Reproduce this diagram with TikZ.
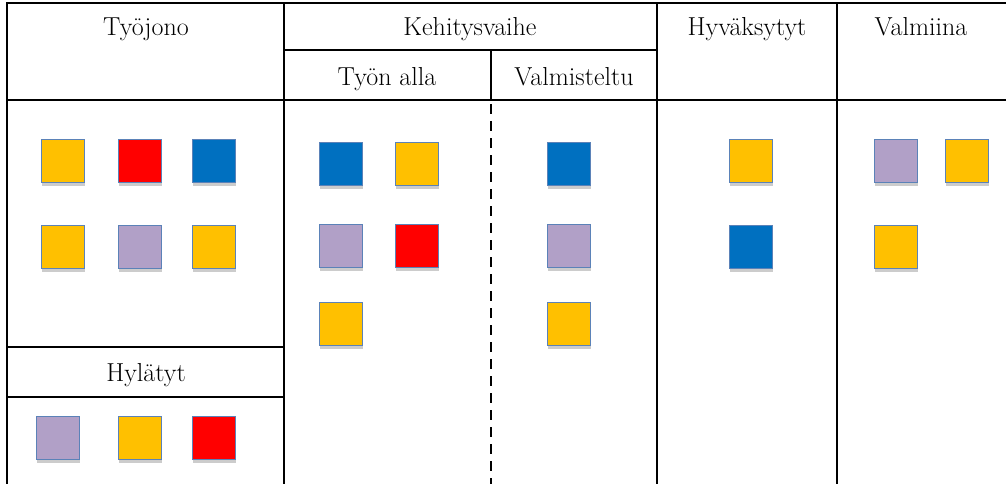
\documentclass[tikz,border=0pt]{standalone}
\usetikzlibrary{shadows}
\definecolor{cOrange}{HTML}{FFC000}
\definecolor{cRed}{HTML}{FF0000}
\definecolor{cBlue}{HTML}{0070C0}
\definecolor{cLav}{HTML}{B1A0C7}
\definecolor{cBorder}{HTML}{5B82B8}
\begin{document}
\begin{tikzpicture}[x=1pt,y=-1pt,
  rule/.style={line width=2.8pt, line cap=rect},
  dashrule/.style={line width=2.8pt, dash pattern=on 10pt off 7pt},
  card/.style={draw=cBorder, line width=1.3pt, minimum size=43pt, inner sep=0pt,
    drop shadow={shadow xshift=0.8pt, shadow yshift=-3pt, opacity=0.2, fill=black}},
  hdr/.style={font=\fontsize{26}{30}\selectfont, anchor=base, inner sep=0pt}]
\useasboundingbox (0,0) rectangle (1006,484);
\fill[white] (0,0) rectangle (1006,484);
% grid lines
\draw[rule] (1006,3) -- (7,3) -- (7,484);
\draw[rule] (7,100) -- (1006,100);
\draw[rule] (284,3) -- (284,484);
\draw[rule] (657,3) -- (657,484);
\draw[rule] (837,3) -- (837,484);
\draw[rule] (284,50) -- (657,50);
\draw[rule] (491,50) -- (491,100);
\draw[dashrule] (491,104) -- (491,484);
\draw[rule] (7,347) -- (284,347);
\draw[rule] (7,397) -- (284,397);
% headers
\node[hdr] (tyojono) at (146,36) {Työjono};
\node[hdr] (kehitys) at (470,36) {Kehitysvaihe};
\node[hdr] (hyvaks) at (747,36) {Hyväksytyt};
\node[hdr] (valmiina) at (921,36) {Valmiina};
\node[hdr] (tyonalla) at (387,86) {Työn alla};
\node[hdr] (valmist) at (574,86) {Valmisteltu};
\node[hdr] (hylatyt) at (146,381) {Hylätyt};
% Tyojono cards
\node[card, fill=cOrange] (a1) at (63,161) {};
\node[card, fill=cRed] (a2) at (140,161) {};
\node[card, fill=cBlue] (a3) at (214,161) {};
\node[card, fill=cOrange] (a4) at (63,247) {};
\node[card, fill=cLav] (a5) at (140,247) {};
\node[card, fill=cOrange] (a6) at (214,247) {};
% Hylatyt cards
\node[card, fill=cLav] (h1) at (58,438) {};
\node[card, fill=cOrange] (h2) at (140,438) {};
\node[card, fill=cRed] (h3) at (214,438) {};
% Tyon alla cards
\node[card, fill=cBlue] (t1) at (341,164) {};
\node[card, fill=cOrange] (t2) at (417,164) {};
\node[card, fill=cLav] (t3) at (341,246) {};
\node[card, fill=cRed] (t4) at (417,246) {};
\node[card, fill=cOrange] (t5) at (341,324) {};
% Valmisteltu cards
\node[card, fill=cBlue] (v1) at (569,164) {};
\node[card, fill=cLav] (v2) at (569,246) {};
\node[card, fill=cOrange] (v3) at (569,324) {};
% Hyvaksytyt cards
\node[card, fill=cOrange] (y1) at (751,161) {};
\node[card, fill=cBlue] (y2) at (751,247) {};
% Valmiina cards
\node[card, fill=cLav] (m1) at (896,161) {};
\node[card, fill=cOrange] (m2) at (967,161) {};
\node[card, fill=cOrange] (m3) at (896,247) {};
\end{tikzpicture}
\end{document}
